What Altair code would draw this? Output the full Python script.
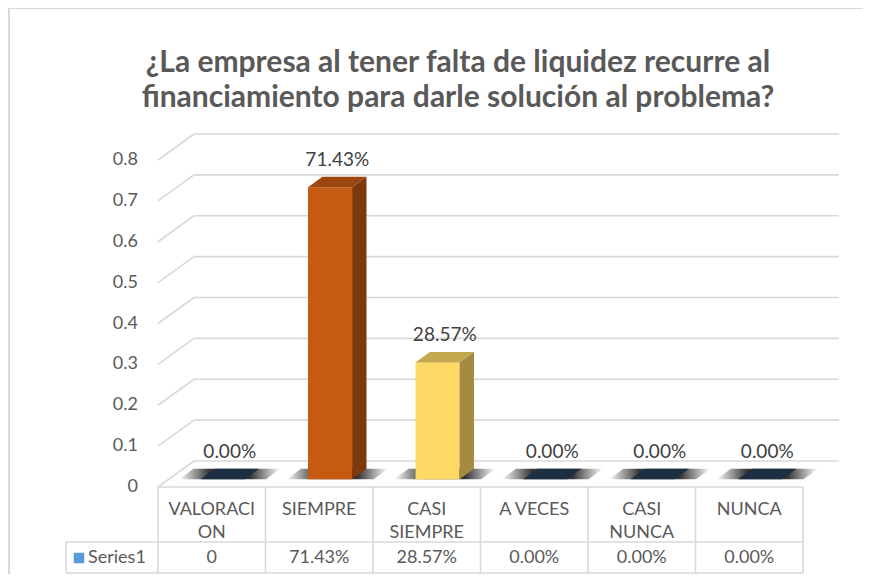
import altair as alt
import pandas as pd

# ---------------- data ----------------
title_lines = ["¿La empresa al tener falta de liquidez recurre al",
               "financiamiento para darle solución al problema?"]
categories = ["VALORACI\nON", "SIEMPRE", "CASI\nSIEMPRE", "A VECES", "CASI\nNUNCA", "NUNCA"]
values = [0.0, 0.7143, 0.2857, 0.0, 0.0, 0.0]
table_labels = ["0", "71.43%", "28.57%", "0.00%", "0.00%", "0.00%"]
series_name = "Series1"
y_ticks = [0.0, 0.1, 0.2, 0.3, 0.4, 0.5, 0.6, 0.7, 0.8]

# ---------------- styles ----------------
front_colors = ["#1F3347", "#C55A11", "#FFD966", "#1F3347", "#1F3347", "#1F3347"]
top_colors = ["#1D3043", "#9A460E", "#C4A74F", "#1D3043", "#1D3043", "#1D3043"]
side_colors = ["#16242F", "#7E390B", "#A58A44", "#16242F", "#16242F", "#16242F"]
TEXT = "#595959"
GRID = "#d9d9d9"
FONT = "Lato"

N = len(categories)
DX = 0.335          # floor depth in slot units
DY = 0.0636         # floor depth in value units
FRONT = 0.3         # bar front face depth fraction
BW = 0.41           # bar width (slots)
bdx, bdy = 0.4 * DX, 0.4 * DY
fx, fy = FRONT * DX, FRONT * DY

xs = alt.Scale(domain=[0, N], range=[150, 795], nice=False, zero=False)
ys = alt.Scale(domain=[0, 0.8], range=[479, 152], nice=False, zero=False)

# ---------------- geometry tables built from the data ----------------
faces = []
shadows = []
for i, v in enumerate(values):
    c = i + 0.5 + fx
    xl, xr = c - BW / 2, c + BW / 2
    faces += [dict(id=f"f{i}", x=xl, y=v + fy, y2=fy, fill=front_colors[i]),
              dict(id=f"f{i}", x=xr, y=v + fy, y2=fy, fill=front_colors[i])]
    faces += [dict(id=f"t{i}", x=xl, y=v + fy, y2=v + fy, fill=top_colors[i]),
              dict(id=f"t{i}", x=xl + bdx, y=v + fy + bdy, y2=v + fy, fill=top_colors[i]),
              dict(id=f"t{i}", x=xr, y=v + fy + bdy, y2=v + fy, fill=top_colors[i]),
              dict(id=f"t{i}", x=xr + bdx, y=v + fy + bdy, y2=v + fy + bdy, fill=top_colors[i])]
    faces += [dict(id=f"s{i}", x=xr, y=v + fy, y2=fy, fill=side_colors[i]),
              dict(id=f"s{i}", x=xr + bdx, y=v + fy + bdy, y2=fy + bdy, fill=side_colors[i])]
    sl, sr = xl - 0.2, xr + 0.2
    shadows += [dict(id=i, x=sl, y=fy, y2=fy),
                dict(id=i, x=sl + bdx, y=fy + bdy, y2=fy),
                dict(id=i, x=sr, y=fy + bdy, y2=fy),
                dict(id=i, x=sr + bdx, y=fy + bdy, y2=fy + bdy)]
faces_df = pd.DataFrame(faces)
shadow_df = pd.DataFrame(shadows)

bars_df = pd.DataFrame({
    "cat": categories,
    "v": values,
    "center": [i + 0.5 for i in range(N)],
    "label_x": [i + 0.5 + fx + bdx / 2 for i in range(N)],
    "label_y": [v + fy + bdy for v in values],
    "table": table_labels,
})

ticks_df = pd.DataFrame({"t": y_ticks})
ticks_df["x0"] = 0.0
ticks_df["x1"] = DX
ticks_df["x2"] = N + DX
ticks_df["tb"] = ticks_df["t"] + DY

bounds_df = pd.DataFrame({"b": list(range(N + 1))})

# ---------------- layers ----------------
one = pd.DataFrame({"a": [0]})
frame_top = alt.Chart(one).mark_rule(color=GRID, strokeWidth=2).encode(
    x=alt.value(1), x2=alt.value(870), y=alt.value(0))
frame_left = alt.Chart(one).mark_rule(color=GRID, strokeWidth=2).encode(
    x=alt.value(1), y=alt.value(0), y2=alt.value(580))

wall = alt.Chart(ticks_df).mark_rule(color=GRID, strokeWidth=1.6).encode(
    x=alt.X("x0:Q", scale=xs, axis=None),
    x2="x1:Q",
    y=alt.Y("t:Q", scale=ys, axis=None),
    y2="tb:Q",
)

back = alt.Chart(ticks_df).mark_rule(color=GRID, strokeWidth=1.6).encode(
    x=alt.X("x1:Q", scale=xs, axis=None),
    x2="x2:Q",
    y=alt.Y("tb:Q", scale=ys, axis=None),
)

tick_labels = alt.Chart(ticks_df).mark_text(
    font=FONT, fontSize=18, color=TEXT, align="right", baseline="middle"
).encode(
    x=alt.value(130),
    y=alt.Y("t:Q", scale=ys, axis=None),
    text=alt.Text("t:Q", format="~g"),
)

shadow = alt.Chart(shadow_df).mark_area(
    color=alt.LinearGradient(
        gradient="linear", x1=0, x2=1, y1=0, y2=0,
        stops=[alt.GradientStop(offset=0, color="rgba(30,30,30,0)"),
               alt.GradientStop(offset=0.3, color="rgba(30,30,30,0.9)"),
               alt.GradientStop(offset=0.7, color="rgba(30,30,30,0.9)"),
               alt.GradientStop(offset=1, color="rgba(30,30,30,0)")])
).encode(
    x=alt.X("x:Q", scale=xs, axis=None),
    y=alt.Y("y:Q", scale=ys, axis=None, stack=None),
    y2="y2:Q",
    detail="id:N",
)

bars = alt.Chart(faces_df).mark_area(interpolate="linear").encode(
    x=alt.X("x:Q", scale=xs, axis=None),
    y=alt.Y("y:Q", scale=ys, axis=None, stack=None),
    y2="y2:Q",
    detail="id:N",
    color=alt.Color("fill:N", scale=None),
)

labels = alt.Chart(bars_df).mark_text(
    font=FONT, fontSize=19, color="#404040", dy=-17, baseline="middle"
).encode(
    x=alt.X("label_x:Q", scale=xs, axis=None),
    y=alt.Y("label_y:Q", scale=ys, axis=None),
    text=alt.Text("v:Q", format=".2%"),
)

# data table under the floor
table_vlines = alt.Chart(bounds_df).mark_rule(color=GRID, strokeWidth=1.6).encode(
    x=alt.X("b:Q", scale=xs, axis=None), y=alt.value(479), y2=alt.value(565))
table_top = alt.Chart(pd.DataFrame({"a": [0], "b": [N]})).mark_rule(color=GRID, strokeWidth=1.6).encode(
    x=alt.X("a:Q", scale=xs, axis=None), x2="b:Q", y=alt.value(479))
table_mid = alt.Chart(one).mark_rule(color=GRID, strokeWidth=1.6).encode(
    x=alt.value(58), x2=alt.value(795), y=alt.value(534))
table_bot = alt.Chart(one).mark_rule(color=GRID, strokeWidth=1.6).encode(
    x=alt.value(58), x2=alt.value(795), y=alt.value(565))
table_left = alt.Chart(one).mark_rule(color=GRID, strokeWidth=1.6).encode(
    x=alt.value(58), y=alt.value(534), y2=alt.value(565))

header = alt.Chart(bars_df).mark_text(
    font=FONT, fontSize=18, color=TEXT, lineBreak="\n", lineHeight=23, baseline="alphabetic"
).encode(
    x=alt.X("center:Q", scale=xs, axis=None), y=alt.value(507), text="cat:N")
row = alt.Chart(bars_df).mark_text(
    font=FONT, fontSize=18, color=TEXT, baseline="middle"
).encode(
    x=alt.X("center:Q", scale=xs, axis=None), y=alt.value(550), text="table:N")

legend_sq = alt.Chart(pd.DataFrame({"s": [series_name]})).mark_square(
    color="#5B9BD5", size=110, opacity=1).encode(x=alt.value(71), y=alt.value(550))
legend_tx = alt.Chart(pd.DataFrame({"s": [series_name]})).mark_text(
    font=FONT, fontSize=18, color=TEXT, align="left", baseline="middle").encode(
    x=alt.value(80), y=alt.value(550), text="s:N")

title = alt.Chart(pd.DataFrame({"t": ["\n".join(title_lines)]})).mark_text(
    font=FONT, fontSize=30, fontWeight="bold", color=TEXT, lineBreak="\n", lineHeight=35,
    baseline="alphabetic", align="center").encode(
    x=alt.value(450), y=alt.value(64), text="t:N")

chart = alt.layer(
    frame_top, frame_left, wall, back, tick_labels, shadow, bars, labels,
    table_vlines, table_top, table_mid, table_bot, table_left, header, row,
    legend_sq, legend_tx, title,
).properties(
    width=855, height=566, autosize=alt.AutoSizeParams(type="none"),
    padding=0, background="white",
).configure_view(stroke=None)

chart.save("out.html", embed_options={"renderer": "svg", "actions": False})
